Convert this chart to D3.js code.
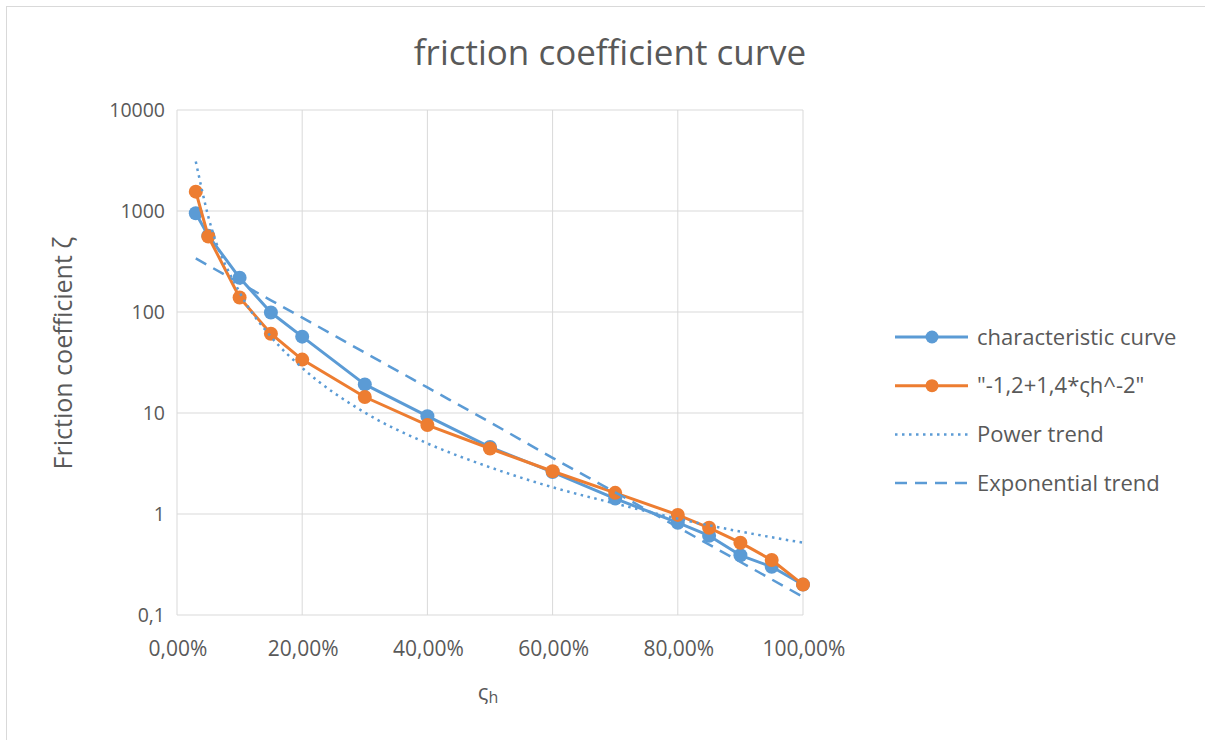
<!DOCTYPE html>
<html>
<head>
<meta charset="utf-8">
<script src="https://cdn.jsdelivr.net/npm/d3@7.9.0/dist/d3.min.js"></script>
<style>
  body { margin: 0; background: #fff; }
  text { font-family: "Open Sans", "Noto Sans", sans-serif; fill: #595959; }
</style>
</head>
<body>
<svg id="chart" width="1205" height="740"></svg>
<script>
// share of opening (x) for every measured point
const xShare = [0.03, 0.05, 0.10, 0.15, 0.20, 0.30, 0.40, 0.50, 0.60, 0.70, 0.80, 0.85, 0.90, 0.95, 1.00];
const characteristic = [950, 570, 218, 99, 57, 19.2, 9.3, 4.6, 2.6, 1.42, 0.82, 0.61, 0.39, 0.30, 0.20];
const formulaCurve = [1554, 559, 139, 61, 33.8, 14.4, 7.6, 4.45, 2.65, 1.62, 0.98, 0.73, 0.52, 0.35, 0.20];

// trend lines
const trendX = [0.03, 0.05, 0.10, 0.15, 0.20, 0.30, 0.40, 0.50, 0.60, 0.70, 0.80, 0.90, 1.00];
const powerTrend = [3090, 880, 157, 57, 28, 10.1, 5.0, 2.9, 1.84, 1.27, 0.90, 0.67, 0.52];
const expX = [0.03, 0.10, 0.20, 0.30, 0.40, 0.50, 0.60, 0.70, 0.80, 0.90, 1.00];
const expTrend = [339, 194, 88, 39.6, 17.9, 8.1, 3.6, 1.64, 0.74, 0.335, 0.151];

const yTicks = [0.1, 1, 10, 100, 1000, 10000];
const xTicks = [0, 0.2, 0.4, 0.6, 0.8, 1.0];

const blue = '#5b9bd5';
const orange = '#ed7d31';

const svg = d3.select('#chart');

// chart frame
svg.append('rect')
  .attr('x', 6.5).attr('y', 6.5)
  .attr('width', 1210).attr('height', 1000)
  .attr('fill', 'none')
  .attr('stroke', '#d9d9d9');

const x = d3.scaleLinear().domain([0, 1]).range([177, 803]);
const y = d3.scaleLog().domain([0.1, 10000]).range([615, 110]);

// gridlines
svg.append('g')
  .selectAll('line')
  .data(yTicks)
  .join('line')
  .attr('x1', x(0)).attr('x2', x(1))
  .attr('y1', d => y(d)).attr('y2', d => y(d))
  .attr('stroke', '#d9d9d9').attr('stroke-width', 1);

svg.append('g')
  .selectAll('line')
  .data(xTicks)
  .join('line')
  .attr('x1', d => x(d)).attr('x2', d => x(d))
  .attr('y1', y(10000)).attr('y2', y(0.1))
  .attr('stroke', '#d9d9d9').attr('stroke-width', 1);

// tick labels
const fmtY = d => String(d).replace('.', ',');
const fmtX = d => (d * 100).toFixed(2).replace('.', ',') + '%';

svg.append('g')
  .selectAll('text')
  .data(yTicks)
  .join('text')
  .attr('x', 165)
  .attr('y', d => y(d))
  .attr('dy', '0.35em')
  .attr('text-anchor', 'end')
  .style('font-size', '19.5px')
  .text(fmtY);

svg.append('g')
  .selectAll('text')
  .data(xTicks)
  .join('text')
  .attr('x', d => x(d) + 1)
  .attr('y', 649)
  .attr('dy', '0.35em')
  .attr('text-anchor', 'middle')
  .style('font-size', '21px')
  .text(fmtX);

// titles
svg.append('text')
  .attr('x', 610).attr('y', 65)
  .attr('text-anchor', 'middle')
  .style('font-size', '35px')
  .text('friction coefficient curve');

svg.append('text')
  .attr('transform', 'translate(72,353) rotate(-90)')
  .attr('text-anchor', 'middle')
  .style('font-size', '25px')
  .text('Friction coefficient ζ');

const xTitle = svg.append('text')
  .attr('x', 488).attr('y', 700)
  .attr('text-anchor', 'middle')
  .style('font-size', '22px');
xTitle.append('tspan').text('ς');
xTitle.append('tspan').attr('dy', 3).style('font-size', '16px').text('h');

// series
const seriesLine = d3.line()
  .x(d => x(d[0]))
  .y(d => y(d[1]));

const trendLine = d3.line()
  .x(d => x(d[0]))
  .y(d => y(d[1]))
  .curve(d3.curveMonotoneX);

const series = [
  { name: 'characteristic curve', color: blue, values: characteristic },
  { name: '"-1,2+1,4*ςh^-2"', color: orange, values: formulaCurve }
];

series.forEach(s => {
  const pts = xShare.map((v, i) => [v, s.values[i]]);
  svg.append('path')
    .attr('d', seriesLine(pts))
    .attr('fill', 'none')
    .attr('stroke', s.color)
    .attr('stroke-width', 3)
    .attr('stroke-linejoin', 'round');
  svg.append('g')
    .selectAll('circle')
    .data(pts)
    .join('circle')
    .attr('cx', d => x(d[0]))
    .attr('cy', d => y(d[1]))
    .attr('r', 7)
    .attr('fill', s.color);
});

// trend lines on top
svg.append('path')
  .attr('d', trendLine(trendX.map((v, i) => [v, powerTrend[i]])))
  .attr('fill', 'none')
  .attr('stroke', blue)
  .attr('stroke-width', 2.5)
  .attr('stroke-dasharray', '2.5,4.5');

svg.append('path')
  .attr('d', trendLine(expX.map((v, i) => [v, expTrend[i]])))
  .attr('fill', 'none')
  .attr('stroke', blue)
  .attr('stroke-width', 2.5)
  .attr('stroke-dasharray', '12,8');

// legend
const legendItems = [
  { name: 'characteristic curve', color: blue, marker: true, dash: null },
  { name: '"-1,2+1,4*ςh^-2"', color: orange, marker: true, dash: null },
  { name: 'Power trend', color: blue, marker: false, dash: '2.5,4.5' },
  { name: 'Exponential trend', color: blue, marker: false, dash: '12,8' }
];

const legend = svg.append('g');
legendItems.forEach((d, i) => {
  const ly = 337 + i * 48.7;
  const row = legend.append('g');
  row.append('line')
    .attr('x1', 895).attr('x2', 968)
    .attr('y1', ly).attr('y2', ly)
    .attr('stroke', d.color)
    .attr('stroke-width', d.marker ? 3 : 2.5)
    .attr('stroke-dasharray', d.dash);
  if (d.marker) {
    row.append('circle')
      .attr('cx', 932).attr('cy', ly)
      .attr('r', 6.5)
      .attr('fill', d.color);
  }
  row.append('text')
    .attr('x', 977).attr('y', ly)
    .attr('dy', '0.35em')
    .style('font-size', '22px')
    .text(d.name);
});
</script>
</body>
</html>
